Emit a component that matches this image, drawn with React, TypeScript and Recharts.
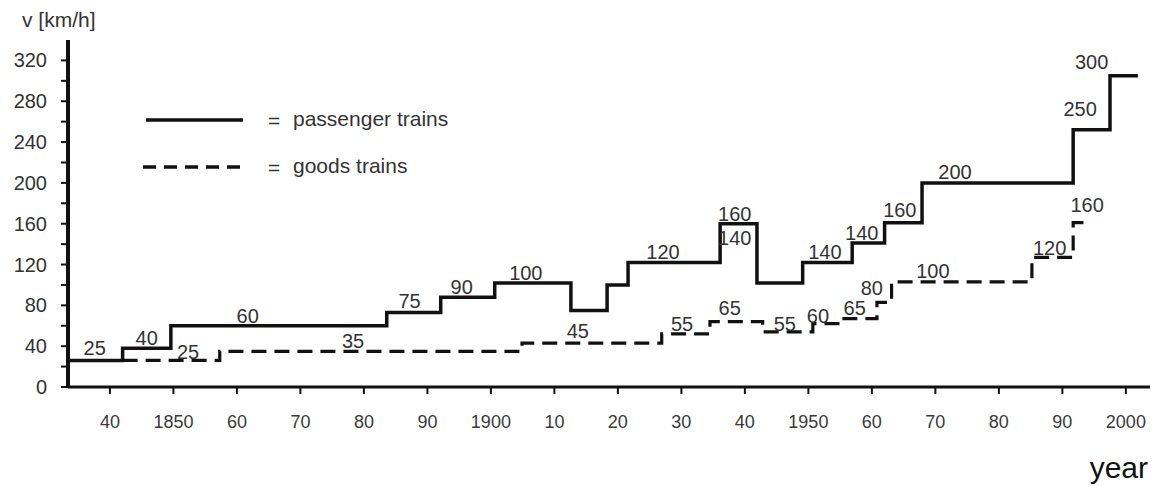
import React from "react";
import { LineChart, Line, XAxis, YAxis, ReferenceDot, Legend } from "recharts";

// passenger trains: step starts (year, km/h); last point closes the final step
const passengerYears = [1833.4, 1842, 1849.6, 1883.6, 1892.1, 1900.6, 1912.6, 1918.3, 1921.6, 1936.1, 1941.9, 1949.1, 1956.9, 1962, 1967.9, 1991.7, 1997.5, 2001.9];
const passengerSpeeds = [26, 38, 60, 73, 88, 102, 75, 100, 122, 160, 102, 122, 141, 161, 200, 252, 305, 305];

// goods trains
const goodsYears = [1842, 1857.3, 1904.9, 1926.9, 1934.5, 1942.8, 1950.7, 1955, 1960.8, 1963.1, 1985.2, 1991.7, 1994.3];
const goodsSpeeds = [26, 35, 43, 52, 64, 54, 62, 67, 83, 103, 127, 161, 161];

// value labels written next to the steps
const passengerLabelText = ["25", "40", "60", "75", "90", "100", "120", "160", "140", "140", "140", "160", "200", "250", "300"];
const passengerLabelYears = [1837.6, 1845.8, 1861.7, 1887.2, 1895.4, 1905.5, 1927.1, 1938.4, 1938.4, 1952.6, 1958.4, 1964.4, 1973.1, 1992.8, 1994.6];
const passengerLabelSpeeds = [38, 48, 70, 84, 98, 112, 132, 170, 146, 132, 151, 173, 211, 272, 318];

const goodsLabelText = ["25", "35", "45", "55", "65", "55", "60", "65", "80", "100", "120", "160"];
const goodsLabelYears = [1852.3, 1878.3, 1913.7, 1930.1, 1937.6, 1946.3, 1951.5, 1957.3, 1960, 1969.6, 1988, 1993.9];
const goodsLabelSpeeds = [34, 45, 55, 62, 77, 62, 70, 77, 97, 114, 136, 178];

const yearTicks = [1840, 1850, 1860, 1870, 1880, 1890, 1900, 1910, 1920, 1930, 1940, 1950, 1960, 1970, 1980, 1990, 2000];
const speedTicks = [0, 20, 40, 60, 80, 100, 120, 140, 160, 180, 200, 220, 240, 260, 280, 300, 320];

const passengerData = passengerYears.map((year, i) => ({ year, v: passengerSpeeds[i] }));
const goodsData = goodsYears.map((year, i) => ({ year, v: goodsSpeeds[i] }));

const FONT = "'Liberation Sans', Arial, sans-serif";
const INK = "#111";
const TEXT = "#333";

const YTick = (props: any) => {
  const { x, y, payload } = props;
  if (payload.value % 40 !== 0) return null;
  return (
    <text x={x} y={y} textAnchor="end" dominantBaseline="central" fontSize={20} fill={TEXT} fontFamily={FONT}>
      {payload.value}
    </text>
  );
};

const XTick = (props: any) => {
  const { x, y, payload } = props;
  const yr = payload.value;
  const label = yr % 50 === 0 ? String(yr) : String(yr % 100).padStart(2, "0");
  return (
    <text x={x} y={y + 34} textAnchor="middle" fontSize={18} fill="#3a3a3a" fontFamily={FONT}>
      {label}
    </text>
  );
};

const ValueLabel = (text: string) => (p: any) => (
  <text x={p.cx} y={p.cy} textAnchor="middle" dominantBaseline="central" fontSize={20} fill={TEXT} fontFamily={FONT}>
    {text}
  </text>
);

const LegendContent = (props: any) => {
  const items = [...(props.payload || [])].sort((a: any, b: any) =>
    (a.payload?.strokeDasharray ? 1 : 0) - (b.payload?.strokeDasharray ? 1 : 0)
  );
  return (
    <svg width={380} height={80}>
      {items.map((item: any, i: number) => {
        const cy = 20 + i * 47;
        const dashed = !!item.payload?.strokeDasharray;
        return (
          <g key={item.value}>
            <line x1={dashed ? 3 : 6} y1={cy} x2={103} y2={cy} stroke={INK} strokeWidth={3.5}
              strokeDasharray={dashed ? "13 8" : undefined} />
            <text x={128} y={cy} dominantBaseline="central" fontSize={21} fill={TEXT} fontFamily={FONT}>=</text>
            <text x={153} y={cy - 2} dominantBaseline="central" fontSize={21} fill={TEXT} fontFamily={FONT}>{item.value}</text>
          </g>
        );
      })}
    </svg>
  );
};

export default function App() {
  return (
    <div style={{ position: "absolute", left: 0, top: 0, background: "#fff" }}>
      <LineChart width={1161} height={486} margin={{ top: 40, right: 11, bottom: 0, left: 0 }}>
        <XAxis
          dataKey="year"
          type="number"
          domain={[1833.4, 2003.8]}
          ticks={yearTicks}
          interval={0}
          height={99}
          tickSize={7}
          tickMargin={0}
          axisLine={{ stroke: INK, strokeWidth: 3 }}
          tickLine={{ stroke: INK, strokeWidth: 2 }}
          tick={<XTick />}
          label={{
            content: (p: any) => (
              <text x={p.viewBox.x + p.viewBox.width - 2} y={p.viewBox.y + 91} textAnchor="end" fontSize={30} fill={INK} fontFamily={FONT}>
                year
              </text>
            ),
          }}
        />
        <YAxis
          dataKey="v"
          type="number"
          domain={[0, 340]}
          ticks={speedTicks}
          interval={0}
          width={68}
          tickSize={7}
          tickMargin={14}
          axisLine={{ stroke: INK, strokeWidth: 4 }}
          tickLine={{ stroke: INK, strokeWidth: 2 }}
          tick={<YTick />}
          label={{
            content: (p: any) => (
              <text x={22} y={p.viewBox.y - 13} fontSize={21} fill={TEXT} fontFamily={FONT}>
                v [km/h]
              </text>
            ),
          }}
        />
        <Legend
          layout="horizontal"
          verticalAlign="middle"
          align="center"
          content={<LegendContent />}
          wrapperStyle={{ left: 140, top: 100, width: 380, height: 80 }}
        />
        <Line
          name="passenger trains"
          data={passengerData}
          dataKey="v"
          type="stepAfter"
          stroke={INK}
          strokeWidth={3.5}
          strokeLinejoin="miter"
          dot={false}
          activeDot={false}
          isAnimationActive={false}
        />
        <Line
          name="goods trains"
          data={goodsData}
          dataKey="v"
          type="stepAfter"
          stroke={INK}
          strokeWidth={3.2}
          strokeDasharray="15 8"
          strokeLinejoin="miter"
          dot={false}
          activeDot={false}
          isAnimationActive={false}
        />
        {passengerLabelText.map((t, i) => (
          <ReferenceDot key={"p" + i} x={passengerLabelYears[i]} y={passengerLabelSpeeds[i]} r={0} shape={ValueLabel(t)} />
        ))}
        {goodsLabelText.map((t, i) => (
          <ReferenceDot key={"g" + i} x={goodsLabelYears[i]} y={goodsLabelSpeeds[i]} r={0} shape={ValueLabel(t)} />
        ))}
      </LineChart>
    </div>
  );
}
